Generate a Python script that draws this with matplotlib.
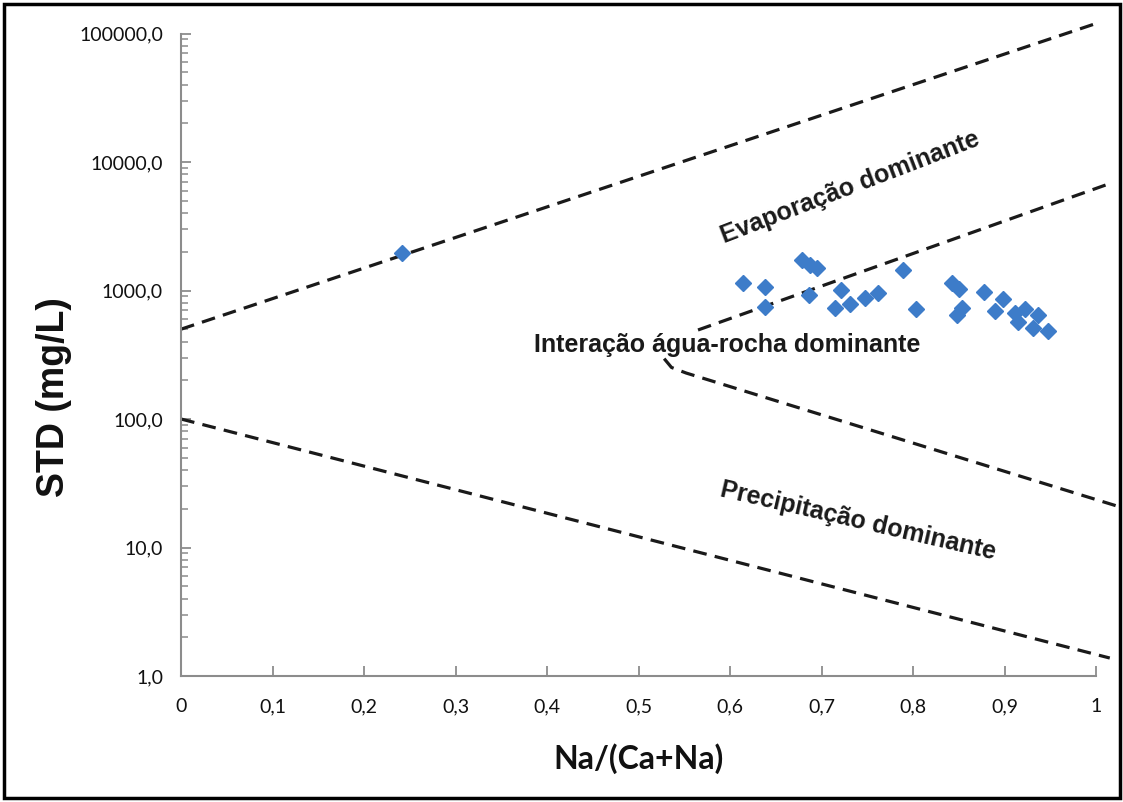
import numpy as np
import matplotlib.pyplot as plt
from matplotlib.patches import Rectangle
from matplotlib.ticker import FixedLocator, LogLocator, NullFormatter

# sample points
na_ratio = [0.241, 0.614, 0.638, 0.638, 0.679, 0.687, 0.695, 0.686, 0.721, 0.715,
            0.731, 0.748, 0.762, 0.789, 0.803, 0.843, 0.850, 0.854, 0.848, 0.878,
            0.898, 0.890, 0.911, 0.922, 0.915, 0.937, 0.931, 0.948]
std_mg = [1960, 1140, 1065, 745, 1730, 1580, 1500, 925, 1010, 730,
          785, 875, 955, 1445, 720, 1145, 1030, 730, 645, 975,
          860, 690, 670, 720, 570, 645, 510, 485]

# Gibbs boundary lines
evap_x = [0.0, 1.005]
evap_y = [500, 123000]
rock_up_x = [0.565, 1.015]
rock_up_y = [493, 6800]
rock_low_x = [0.528, 0.536, 0.552, 1.026]
rock_low_y = [295, 252, 228, 20.7]
prec_x = [0.0, 1.015]
prec_y = [100, 1.38]

x_ticks = [0, 0.1, 0.2, 0.3, 0.4, 0.5, 0.6, 0.7, 0.8, 0.9, 1.0]
x_labels = ['0', '0,1', '0,2', '0,3', '0,4', '0,5', '0,6', '0,7', '0,8', '0,9', '1']
y_ticks = [1, 10, 100, 1000, 10000, 100000]
y_labels = ['1,0', '10,0', '100,0', '1000,0', '10000,0', '100000,0']

fig = plt.figure(figsize=(11.23, 8.02), dpi=100)
ax = fig.add_axes([0.1612, 0.1571, 0.8148, 0.8011])

dash = dict(color='#1a1a1a', lw=2.3, ls=(0, (4.3, 2.6)), clip_on=False, zorder=2)
ax.plot(evap_x, evap_y, **dash)
ax.plot(rock_up_x, rock_up_y, **dash)
ax.plot(rock_low_x, rock_low_y, **dash)
ax.plot(prec_x, prec_y, **dash)

ax.plot(na_ratio, std_mg, ls='none', marker='D', ms=8.5, color='#3d7cc9',
        mec='#3d7cc9', zorder=3)

ax.set_yscale('log')
ax.set_xlim(0, 1)
ax.set_ylim(1, 100000)

ax.xaxis.set_major_locator(FixedLocator(x_ticks))
ax.set_xticklabels(x_labels)
ax.yaxis.set_major_locator(FixedLocator(y_ticks))
ax.yaxis.set_minor_locator(LogLocator(base=10, subs=np.arange(2, 10)))
ax.yaxis.set_minor_formatter(NullFormatter())
ax.set_yticklabels(y_labels)

for s in ['top', 'right']:
    ax.spines[s].set_visible(False)
for s in ['left', 'bottom']:
    ax.spines[s].set_color('#8c8c8c')
    ax.spines[s].set_linewidth(1.5)

ax.tick_params(which='major', direction='in', length=7, width=1.3, color='#8c8c8c',
               labelsize=14, labelcolor='#111111')
ax.tick_params(axis='x', pad=16)
ax.tick_params(axis='y', pad=13)
ax.tick_params(which='minor', direction='in', length=5, width=1.1, color='#8c8c8c')
for lab in ax.get_xticklabels() + ax.get_yticklabels():
    lab.set_family('Lato')

ax.set_xlabel('Na/(Ca+Na)', family='Lato', fontweight='bold', fontsize=23, color='#111111')
ax.xaxis.set_label_coords(0.5, -0.105)
ax.set_ylabel('STD (mg/L)', family='Liberation Sans', fontweight='bold', fontsize=27,
              color='#111111')
ax.yaxis.set_label_coords(-0.119, 0.434)

txt = dict(family='Liberation Sans', fontweight='bold', fontsize=18, color='#1a1a1a',
           ha='center', va='center')
ax.text(0.731, 6300, 'Evaporação dominante', rotation=21, **txt)
ax.text(0.597, 377, 'Interação água-rocha dominante', **txt)
ax.text(0.740, 16.0, 'Precipitação dominante', rotation=-13, **txt)

# black frame around the whole figure
fig.patches.append(Rectangle((0.004, 0.005), 0.993, 0.99, transform=fig.transFigure,
                             fill=False, ec='black', lw=2.5))

fig.savefig('out.png', dpi=100)
